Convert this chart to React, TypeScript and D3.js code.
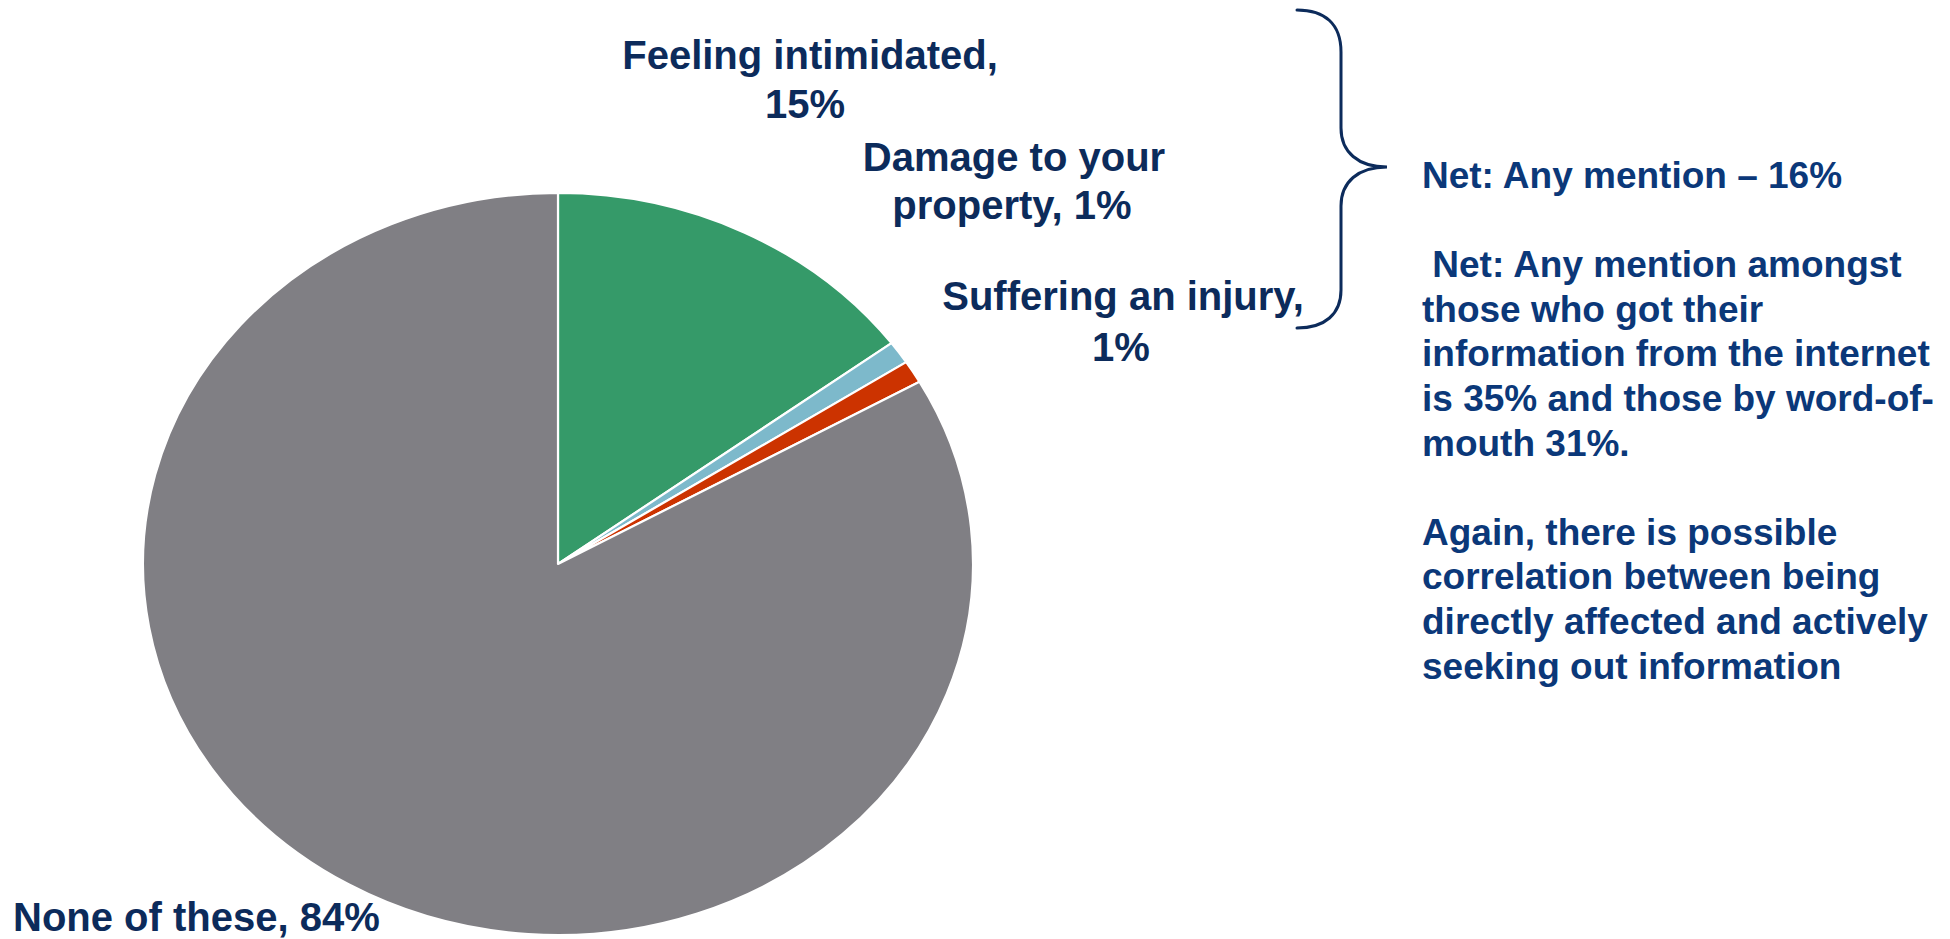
import React from "react";
import * as d3 from "d3";

const categories = ["Feeling intimidated", "Damage to your property", "Suffering an injury", "None of these"];
const values = [15, 1, 1, 84];
const sliceColors = ["#359A69", "#7DB9CB", "#CC3300", "#807F84"];

const labelLines = [
  ["Feeling intimidated,", "15%"],
  ["Damage to your", "property, 1%"],
  ["Suffering an injury,", "1%"],
  ["None of these, 84%"],
];

const noteLines = [
  "Net: Any mention \u2013 16%",
  "",
  " Net: Any mention amongst",
  "those who got their",
  "information from the internet",
  "is 35% and those by word-of-",
  "mouth 31%.",
  "",
  "Again, there is possible",
  "correlation between being",
  "directly affected and actively",
  "seeking out information",
];

// layout (positions only)
const W = 1950;
const H = 939;
const cx = 558;
const cy = 564;
const rx = 415;
const ry = 371;
const labelFont = 40;
const labelPos = [
  { x: 810, y: 69, anchor: "middle", dx: [0, -5], lh: 49 },
  { x: 1014, y: 171, anchor: "middle", dx: [0, -2], lh: 48 },
  { x: 1123, y: 310, anchor: "middle", dx: [0, -2], lh: 51 },
  { x: 13, y: 931, anchor: "start", dx: [0], lh: 48 },
];
const noteX = 1422;
const noteY = 188;
const noteLineH = 44.6;
const noteFont = 37;
const labelColor = "#0C2B5B";
const noteColor = "#0B3879";

export default function App() {
  const pie = d3
    .pie<number>()
    .sort(null)
    .value((d) => d)
    .startAngle(0)
    .endAngle(2 * Math.PI);
  const arcs = pie(values);
  const arc = d3.arc<d3.PieArcDatum<number>>().innerRadius(0).outerRadius(rx);

  const bracePath = [
    "M1297,10",
    "C1325,10 1341,24 1341,52",
    "L1341,128",
    "C1341,152 1358,167 1387,167",
    "C1358,167 1341,182 1341,206",
    "L1341,290",
    "C1341,314 1325,328 1297,328",
  ].join(" ");

  return (
    <svg
      width={W}
      height={H}
      viewBox={`0 0 ${W} ${H}`}
      style={{ position: "absolute", left: 0, top: 0, background: "#fff" }}
      fontFamily="'Liberation Sans', Arial, sans-serif"
      fontWeight="bold"
    >
      <rect x={0} y={0} width={W} height={H} fill="#fff" />
      <g transform={`translate(${cx},${cy}) scale(1,${ry / rx})`}>
        {arcs.map((a, i) => (
          <path
            key={categories[i]}
            d={arc(a) || ""}
            fill={sliceColors[i]}
            stroke="#fff"
            strokeWidth={2.2}
            strokeLinejoin="round"
            vectorEffect="non-scaling-stroke"
          />
        ))}
      </g>
      {labelLines.map((lines, i) => (
        <text
          key={categories[i]}
          x={labelPos[i].x}
          y={labelPos[i].y}
          fontSize={labelFont}
          fill={labelColor}
          textAnchor={labelPos[i].anchor as any}
        >
          {lines.map((ln, j) => (
            <tspan key={j} x={labelPos[i].x + labelPos[i].dx[j]} y={labelPos[i].y + j * labelPos[i].lh}>
              {ln}
            </tspan>
          ))}
        </text>
      ))}
      <path d={bracePath} fill="none" stroke={labelColor} strokeWidth={3} strokeLinecap="round" />
      <text fontSize={noteFont} fill={noteColor} style={{ whiteSpace: "pre" }}>
        {noteLines.map((ln, k) =>
          ln ? (
            <tspan key={k} x={noteX} y={noteY + k * noteLineH}>
              {ln}
            </tspan>
          ) : null
        )}
      </text>
    </svg>
  );
}
